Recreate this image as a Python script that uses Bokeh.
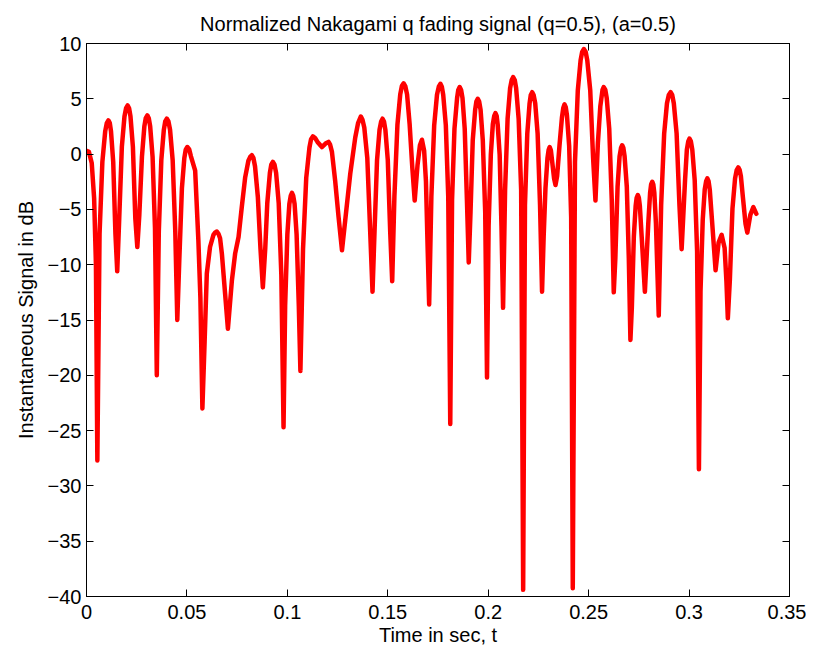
from bokeh.plotting import figure
from bokeh.models import Range1d, FixedTicker, LinearAxis
from bokeh.embed import file_html
from bokeh.resources import INLINE

# time samples (s)
t_sec = [
    0.0000, 0.0012, 0.0026, 0.0038, 0.0047, 0.0054,
    0.0065, 0.0079, 0.0093, 0.0101, 0.0109, 0.0116, 0.0122, 0.0133, 0.0144, 0.0153,
    0.0163, 0.0176, 0.0189, 0.0197, 0.0205, 0.0212, 0.0219, 0.0231, 0.0243, 0.0253,
    0.0263, 0.0276, 0.0288, 0.0295, 0.0303, 0.0310, 0.0317, 0.0329, 0.0341, 0.0350,
    0.0360, 0.03725, 0.0385, 0.0392, 0.0400, 0.0408, 0.0416, 0.0429, 0.0442, 0.0452,
    0.0462, 0.0475, 0.0487, 0.0494, 0.0502, 0.0511, 0.0520, 0.0541, 0.0557, 0.0567, 0.0577,
    0.0588, 0.0599, 0.0615, 0.0632, 0.0641, 0.0649, 0.0657, 0.0665, 0.0674, 0.0690, 0.0704,
    0.0724, 0.0740, 0.0757, 0.0773, 0.0790, 0.0806, 0.0815, 0.0823, 0.0831, 0.0839, 0.0853, 0.0866, 0.0878,
    0.0890, 0.0900, 0.0913, 0.0920, 0.0928, 0.0936, 0.0944, 0.0957, 0.0970, 0.0981,
    0.0989, 0.1000, 0.1010, 0.1017, 0.1023, 0.1029, 0.1036, 0.1046, 0.1057, 0.1065,
    0.1078, 0.1094, 0.1110, 0.1118, 0.1127, 0.1138, 0.1150, 0.1172, 0.1190, 0.1205, 0.1213, 0.1222,
    0.1238, 0.1255, 0.1272,
    0.1288, 0.1313, 0.1338, 0.1352, 0.1366, 0.1374, 0.1383, 0.1398, 0.1412, 0.1424,
    0.1434, 0.14465, 0.1459, 0.1467, 0.1474, 0.1481, 0.1488, 0.1500, 0.1512, 0.1522,
    0.1533, 0.1548, 0.1562, 0.1570, 0.1579, 0.1587, 0.1596, 0.1609, 0.1622, 0.1634,
    0.1648, 0.1660, 0.1670, 0.1681, 0.1690, 0.1699, 0.1706,
    0.1717, 0.1731, 0.1745, 0.1754, 0.1762, 0.1769, 0.1776, 0.1789, 0.1801, 0.1811,
    0.1820, 0.1832, 0.1845, 0.1851, 0.1858, 0.1865, 0.1872, 0.1883, 0.1894, 0.1903,
    0.1912, 0.1923, 0.1935, 0.1941, 0.1948, 0.1955, 0.1962, 0.1973, 0.1985, 0.1994,
    0.2002, 0.2013, 0.2023, 0.2030, 0.2036, 0.2042, 0.2047, 0.2057, 0.2066, 0.2074,
    0.2084, 0.20965, 0.2109, 0.2117, 0.2124, 0.2132, 0.2139, 0.21515, 0.2164, 0.2174,
    0.2183, 0.21945, 0.2206, 0.2212, 0.2219, 0.2226, 0.2234, 0.2246, 0.2258, 0.2268,
    0.2276, 0.2285, 0.2295, 0.2301, 0.2306, 0.2312, 0.2318, 0.2328, 0.2335, 0.2343, 0.2355,
    0.2367, 0.2374, 0.2380, 0.2386, 0.2392, 0.2403, 0.2413, 0.2421,
    0.2432, 0.2446, 0.2460, 0.2468, 0.2476, 0.2485, 0.2493, 0.2508, 0.2522, 0.2534,
    0.2546, 0.2558, 0.2569, 0.2575, 0.2583, 0.2590, 0.26025, 0.2615, 0.2625,
    0.2633, 0.2644, 0.2654, 0.2661, 0.2667, 0.2673, 0.2679, 0.2690, 0.2700, 0.2708,
    0.2715, 0.2725, 0.2734, 0.2739, 0.2745, 0.2750, 0.2755, 0.2764, 0.2780,
    0.2797, 0.2806, 0.2811, 0.2817, 0.2822, 0.2827, 0.2835, 0.2849,
    0.2861, 0.2876, 0.2890, 0.2899, 0.2908, 0.2916, 0.2924, 0.2938, 0.2952, 0.2963,
    0.2980, 0.2989, 0.2996, 0.3002, 0.3009, 0.3016, 0.3028, 0.3040, 0.3049,
    0.3057, 0.3068, 0.3078, 0.3085, 0.3091, 0.3097, 0.3103, 0.3114, 0.3132,
    0.3147, 0.3162, 0.3177, 0.3186, 0.3193,
    0.3203, 0.3216, 0.3229, 0.3237, 0.3245, 0.3252, 0.3258, 0.3268, 0.3281, 0.3290,
    0.3305, 0.3320, 0.3335,
]

# instantaneous signal (dB)
signal_db = [
    0.3, 0.2, -0.8, -4.0, -10.0, -27.7,
    -7.2, -0.7, 2.05, 2.8, 3.05, 2.8, 2.05, -0.7, -7.2, -10.6,
    -5.8, 0.65, 3.4, 4.15, 4.4, 4.15, 3.4, 0.65, -5.8, -8.4,
    -5.5, -0.25, 2.5, 3.25, 3.5, 3.25, 2.5, -0.25, -6.7, -20.0,
    -7.0, -0.55, 2.2, 2.95, 3.2, 2.95, 2.2, -0.55, -7.0, -15.0,
    -9.6, -3.1, -0.36, 0.4, 0.64, 0.45, -0.2, -1.5, -7.8, -13.0, -23.0,
    -17.0, -10.8, -8.4, -7.3, -7.08, -7.0, -7.2, -7.6, -9.0, -12.6, -15.8,
    -11.4, -9.0, -7.5, -4.8, -2.1, -0.6, -0.25, -0.1, -0.35, -1.1, -3.85, -8.5, -12.05,
    -8.5, -4.45, -1.7, -0.95, -0.7, -0.95, -1.7, -4.45, -10.9, -24.7,
    -13.7, -7.25, -4.5, -3.75, -3.5, -3.75, -4.5, -7.25, -13.7, -19.6,
    -8.6, -2.15, 0.6, 1.35, 1.6, 1.45, 1.1, 0.64, 0.95, 1.1, 0.85, 0.2,
    -2.4, -5.7, -8.7,
    -6.0, -1.8, 1.5, 2.8, 3.4, 3.1, 2.4, -0.35, -6.8, -12.45,
    -7.0, -0.55, 2.2, 2.95, 3.2, 2.95, 2.2, -0.55, -7.0, -11.5,
    -3.8, 2.65, 5.4, 6.15, 6.4, 6.15, 5.4, 2.65, -1.2, -4.2,
    -1.0, 0.8, 1.3, 0.3, -2.45, -8.9, -13.6,
    -3.84, 2.6, 5.36, 6.1, 6.36, 6.1, 5.36, 2.6, -3.84, -24.4,
    -4.14, 2.3, 5.06, 5.8, 6.06, 5.8, 5.06, 2.3, -4.14, -9.8,
    -5.2, 1.25, 4.0, 4.75, 5.0, 4.75, 4.0, 1.25, -5.2, -20.2,
    -6.5, -0.05, 2.7, 3.45, 3.7, 3.45, 2.7, -0.05, -6.5, -13.9,
    -3.24, 3.2, 5.96, 6.7, 6.96, 6.7, 5.96, 3.2, -3.24, -39.4,
    -4.6, 1.85, 4.6, 5.35, 5.6, 5.35, 4.6, 1.85, -4.6, -12.45,
    -7.5, -3.1, -0.36, 0.4, 0.64, 0.35, -0.6, -2.2, -2.8, -2.0, 0.8,
    3.3, 4.2, 4.5, 4.25, 3.5, 0.75, -5.7, -39.26,
    -0.7, 5.75, 8.5, 9.25, 9.5, 9.25, 8.5, 5.75, -0.3, -4.2,
    1.0, 4.3, 5.8, 6.06, 5.8, 5.06, 2.3, -4.1, -12.5,
    -9.4, -2.95, -0.2, 0.55, 0.8, 0.55, -0.2, -2.95, -9.4, -16.8,
    -13.9, -7.45, -4.7, -3.95, -3.7, -3.95, -4.7, -7.45, -12.45,
    -6.25, -3.5, -2.75, -2.5, -2.75, -3.5, -6.25, -14.6,
    -4.6, 1.85, 4.6, 5.35, 5.6, 5.35, 4.6, 1.85, -4.6, -8.6,
    -2.35, 0.4, 1.15, 1.4, 1.15, 0.4, -2.35, -8.8, -28.5,
    -12.4, -5.95, -3.2, -2.45, -2.2, -2.45, -3.2, -5.95, -10.5,
    -8.0, -7.3, -8.5, -11.5, -14.85,
    -11.4, -4.95, -2.2, -1.45, -1.2, -1.45, -2.0, -3.9, -6.3, -7.1,
    -5.5, -4.8, -5.4,
]

x_ticks = [0, 0.05, 0.1, 0.15, 0.2, 0.25, 0.3, 0.35]
x_tick_labels = ["0", "0.05", "0.1", "0.15", "0.2", "0.25", "0.3", "0.35"]
y_ticks = [-40, -35, -30, -25, -20, -15, -10, -5, 0, 5, 10]
y_tick_labels = ["\u221240", "\u221235", "\u221230", "\u221225", "\u221220", "\u221215",
                 "\u221210", "\u22125", "0", "5", "10"]

title_text = "Normalized Nakagami q fading signal (q=0.5), (a=0.5)"
x_label = "Time in sec, t"
y_label = "Instantaneous Signal in dB"

assert len(t_sec) == len(signal_db)

FONT = "Liberation Sans"
FS = "20px"

p = figure(width=806, height=648, output_backend="svg", toolbar_location=None,
           x_range=Range1d(0, 0.35), y_range=Range1d(-40, 10),
           min_border_left=86, min_border_right=17, min_border_top=43, min_border_bottom=51)
p.background_fill_color = "white"
p.border_fill_color = "white"
p.outline_line_color = "black"
p.outline_line_width = 1
p.xgrid.visible = False
p.ygrid.visible = False

p.title.text = title_text
p.title.text_font = FONT
p.title.text_font_size = FS
p.title.text_font_style = "normal"
p.title.align = "center"
p.title.text_color = "black"
p.title.standoff = 18

def style_axis(ax, ticks, labels, show_labels=True):
    ax.ticker = FixedTicker(ticks=ticks)
    ax.minor_tick_line_color = None
    ax.major_tick_in = 7
    ax.major_tick_out = 0
    ax.major_tick_line_color = "black"
    ax.axis_line_color = "black"
    if show_labels:
        ax.major_label_overrides = {t: l for t, l in zip(ticks, labels)}
        ax.major_label_text_font = FONT
        ax.major_label_text_color = "black"
        ax.major_label_text_font_size = FS
    else:
        ax.major_label_text_color = None
        ax.major_label_text_font_size = "1px"
        ax.major_label_standoff = 0

style_axis(p.xaxis[0], x_ticks, x_tick_labels)
style_axis(p.yaxis[0], y_ticks, y_tick_labels)
p.xaxis[0].major_label_standoff = 8
p.yaxis[0].major_label_standoff = 5
p.xaxis[0].axis_label = x_label
p.yaxis[0].axis_label = y_label
for ax in (p.xaxis[0], p.yaxis[0]):
    ax.axis_label_text_font = FONT
    ax.axis_label_text_font_size = FS
    ax.axis_label_text_font_style = "normal"
    ax.axis_label_text_color = "black"
p.xaxis[0].axis_label_standoff = 2
p.yaxis[0].axis_label_standoff = 8

top = LinearAxis()
style_axis(top, x_ticks, x_tick_labels, show_labels=False)
p.add_layout(top, "above")
right = LinearAxis()
style_axis(right, y_ticks, y_tick_labels, show_labels=False)
p.add_layout(right, "right")

p.line(t_sec, signal_db, line_color="#ff0000", line_width=4.5, line_join="round", line_cap="round")

open("out.html", "w").write(file_html(p, INLINE))
